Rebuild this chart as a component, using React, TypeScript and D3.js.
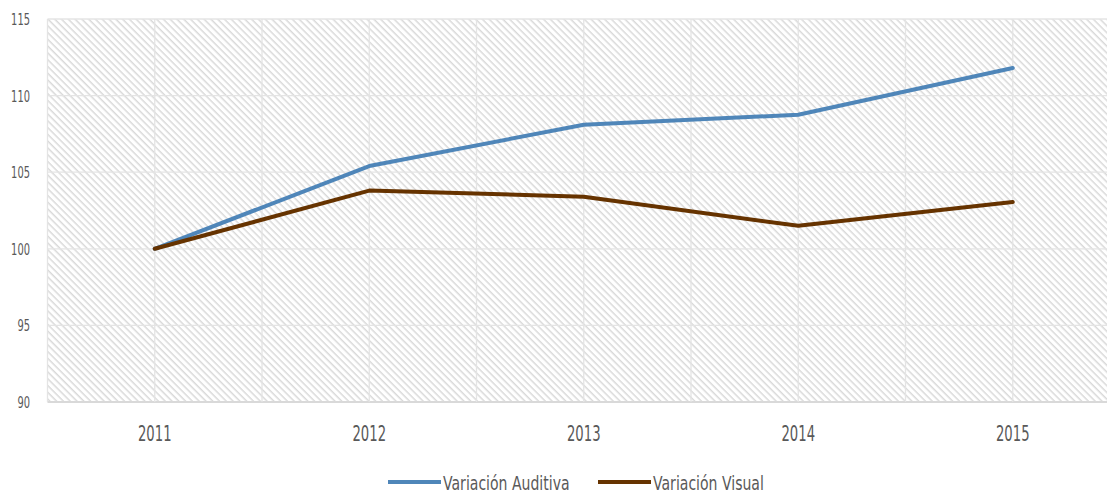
import * as d3 from "d3";
import { useEffect } from "react";

const years = ["2011", "2012", "2013", "2014", "2015"];
const auditiva = [100, 105.4, 108.1, 108.75, 111.8];
const visual = [100, 103.8, 103.4, 101.5, 103.05];
const yTicks = [90, 95, 100, 105, 110, 115];

const series = [
  { name: "Variación Auditiva", values: auditiva, color: "#4f86b9" },
  { name: "Variación Visual", values: visual, color: "#663300" },
];

const width = 1107;
const height = 494;
const marginLeft = 47.5;
const plotRight = 1120;
const marginTop = 19;
const plotBottom = 402;
const font = "'DejaVu Sans', sans-serif";
const textColor = "#595959";

export default function App() {
  useEffect(() => {
    document.body.style.margin = "0";
  }, []);

  const x = d3.scaleBand().domain(years).range([marginLeft, plotRight]).padding(0);
  const cx = (d: string) => (x(d) ?? 0) + x.bandwidth() / 2;
  const y = d3.scaleLinear().domain([90, 115]).range([plotBottom, marginTop]);

  const line = d3
    .line<number>()
    .x((_, i) => cx(years[i]))
    .y((d) => y(d));

  // legend layout: swatch then label, condensed text
  const legendY = 482;
  const legendItems = [
    { ...series[0], x0: 388 },
    { ...series[1], x0: 598 },
  ];

  return (
    <svg width={width} height={height} style={{ display: "block", background: "#fff" }}>
      <defs>
        <pattern
          id="hatch"
          patternUnits="userSpaceOnUse"
          width={4.8}
          height={4.8}
          patternTransform="rotate(-45)"
        >
          <rect width={4.8} height={4.8} fill="#ffffff" />
          <line x1={1.2} y1={0} x2={1.2} y2={4.8} stroke="#d9d9d9" strokeWidth={1.5} />
        </pattern>
      </defs>
      <rect
        x={marginLeft}
        y={marginTop}
        width={plotRight - marginLeft}
        height={plotBottom - marginTop}
        fill="url(#hatch)"
      />
      {/* horizontal grid */}
      {yTicks.map((t) => (
        <line
          key={`h-${t}`}
          x1={marginLeft}
          x2={plotRight}
          y1={y(t)}
          y2={y(t)}
          stroke={t === 90 ? "#d9d9d9" : "#e4e4e4"}
          strokeWidth={t === 90 ? 2 : 1.3}
        />
      ))}
      {/* vertical grid: band edges and centres */}
      {years.map((yr) => (
        <g key={`v-${yr}`}>
          <line x1={x(yr)} x2={x(yr)} y1={marginTop} y2={plotBottom} stroke="#e4e4e4" strokeWidth={1.3} />
          <line x1={cx(yr)} x2={cx(yr)} y1={marginTop} y2={plotBottom} stroke="#e4e4e4" strokeWidth={1.3} />
        </g>
      ))}
      {/* y labels */}
      {yTicks.map((t) => (
        <text
          key={`yl-${t}`}
          transform={`translate(30,${y(t) + 6}) scale(0.6,1)`}
          textAnchor="end"
          fontFamily={font}
          fontSize={16.5}
          fill={textColor}
        >
          {t}
        </text>
      ))}
      {/* x labels */}
      {years.map((yr) => (
        <text
          key={`xl-${yr}`}
          transform={`translate(${cx(yr)},441) scale(0.6,1)`}
          textAnchor="middle"
          fontFamily={font}
          fontSize={22}
          fill={textColor}
        >
          {yr}
        </text>
      ))}
      {series.map((s) => (
        <path
          key={s.name}
          d={line(s.values) ?? ""}
          fill="none"
          stroke={s.color}
          strokeWidth={4}
          strokeLinejoin="round"
          strokeLinecap="round"
        />
      ))}
      {/* legend */}
      {legendItems.map((s) => (
        <g key={`lg-${s.name}`}>
          <line x1={s.x0} x2={s.x0 + 53} y1={legendY} y2={legendY} stroke={s.color} strokeWidth={4} />
          <text
            transform={`translate(${s.x0 + 55},490) scale(0.72,1)`}
            fontFamily={font}
            fontSize={19.5}
            fill={textColor}
          >
            {s.name}
          </text>
        </g>
      ))}
    </svg>
  );
}
